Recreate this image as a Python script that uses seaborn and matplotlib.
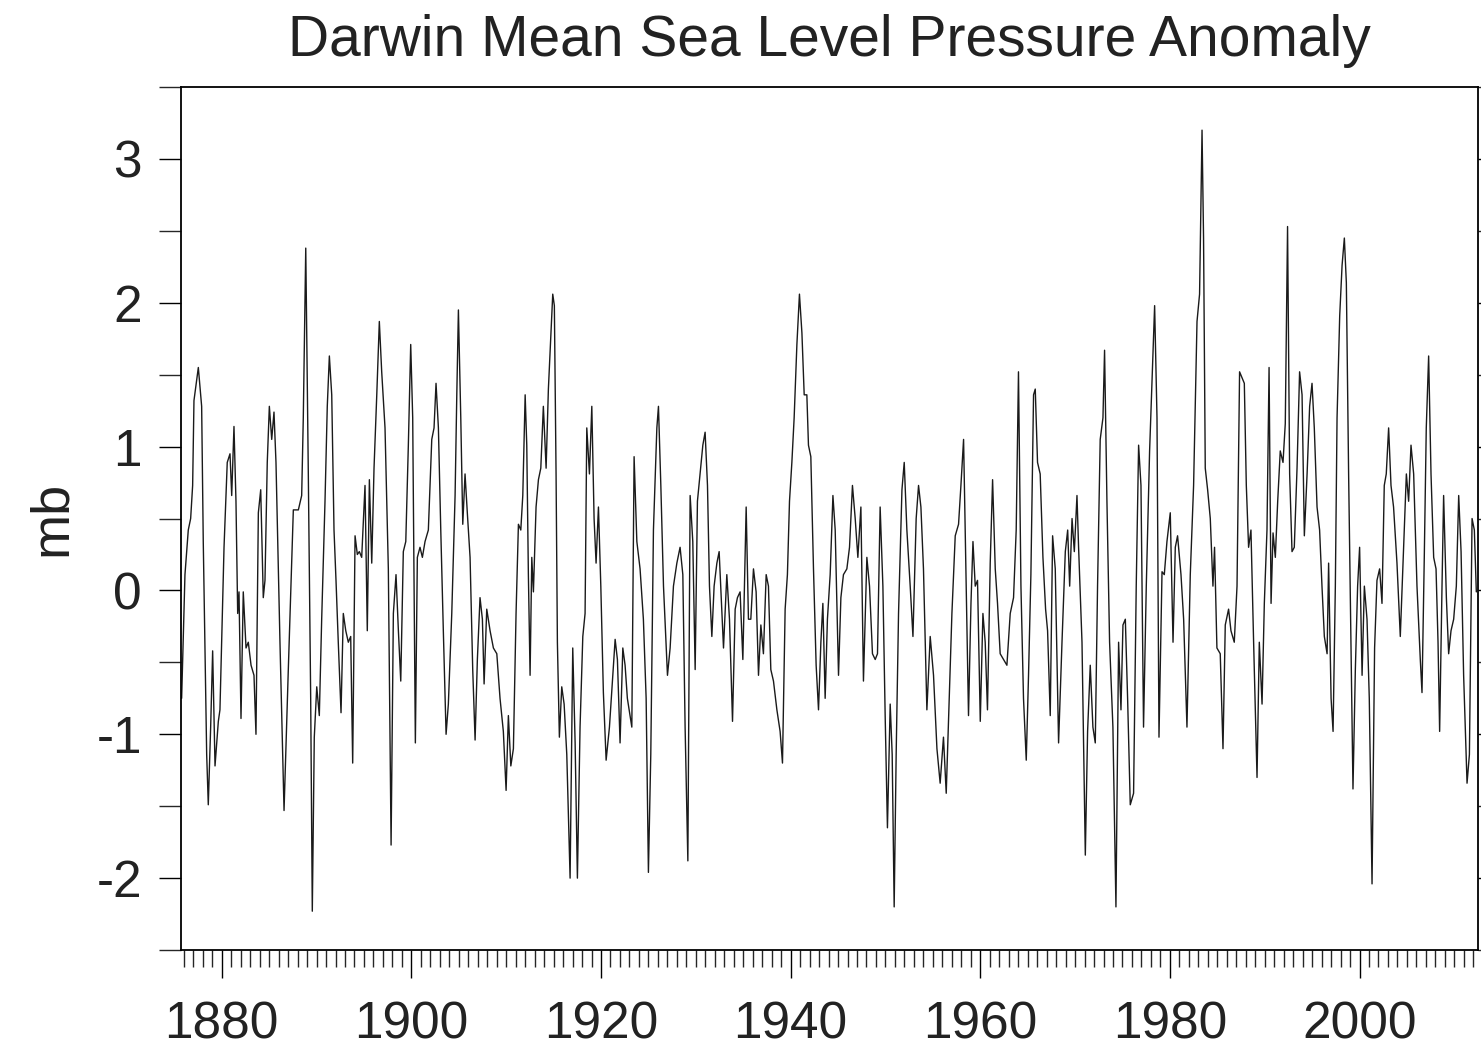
import numpy as np
import pandas as pd
import matplotlib
matplotlib.use('Agg')
import matplotlib.pyplot as plt
import seaborn as sns
from matplotlib.ticker import MultipleLocator

# turning points (decimal year, anomaly in mb)
years = [1875.77, 1876.12, 1876.47, 1876.72, 1876.93, 1877.07, 1877.53, 1877.88, 1878.05, 1878.41,
         1878.58, 1878.83, 1879.04, 1879.29, 1879.64, 1879.81, 1880.24, 1880.58, 1880.87, 1881.05,
         1881.29, 1881.50, 1881.68, 1881.82, 1882.03, 1882.27, 1882.56, 1882.80, 1883.09, 1883.40,
         1883.61, 1883.86, 1884.11, 1884.38, 1884.56, 1884.80, 1885.02, 1885.27, 1885.51, 1885.72,
         1886.14, 1886.57, 1887.02, 1887.55, 1888.08, 1888.43, 1888.60, 1888.86, 1889.13, 1889.38,
         1889.55, 1889.76, 1890.02, 1890.29, 1890.54, 1890.89, 1891.13, 1891.35, 1891.60, 1891.84,
         1892.05, 1892.29, 1892.58, 1892.82, 1893.08, 1893.35, 1893.60, 1893.81, 1894.06, 1894.30,
         1894.51, 1894.76, 1895.11, 1895.35, 1895.57, 1895.82, 1896.06, 1896.35, 1896.62, 1896.87,
         1897.22, 1897.57, 1897.86, 1898.10, 1898.38, 1898.63, 1898.88, 1899.15, 1899.41, 1899.68,
         1899.93, 1900.14, 1900.28, 1900.42, 1900.63, 1900.91, 1901.16, 1901.44, 1901.79, 1902.15,
         1902.39, 1902.60, 1902.85, 1903.10, 1903.37, 1903.66, 1903.90, 1904.26, 1904.61, 1904.79,
         1904.96, 1905.21, 1905.42, 1905.66, 1905.90, 1906.19, 1906.47, 1906.72, 1906.96, 1907.24,
         1907.49, 1907.67, 1907.95, 1908.30, 1908.65, 1909.01, 1909.35, 1909.70, 1909.99, 1910.23,
         1910.49, 1910.76, 1911.04, 1911.29, 1911.54, 1911.75, 1912.00, 1912.17, 1912.34, 1912.52,
         1912.70, 1912.87, 1913.15, 1913.40, 1913.65, 1913.92, 1914.21, 1914.45, 1914.70, 1914.91,
         1915.08, 1915.26, 1915.40, 1915.61, 1915.86, 1916.11, 1916.39, 1916.74, 1917.02, 1917.27,
         1917.51, 1917.79, 1918.08, 1918.32, 1918.50, 1918.78, 1919.03, 1919.27, 1919.48, 1919.73,
         1919.98, 1920.25, 1920.54, 1920.89, 1921.24, 1921.49, 1921.73, 1922.01, 1922.30, 1922.54,
         1922.78, 1923.25, 1923.49, 1923.78, 1924.12, 1924.47, 1924.76, 1925.00, 1925.25, 1925.53,
         1925.89, 1926.06, 1926.31, 1926.59, 1927.01, 1927.29, 1927.64, 1928.00, 1928.34, 1928.63,
         1928.87, 1929.16, 1929.40, 1929.68, 1929.93, 1930.17, 1930.45, 1930.74, 1930.98, 1931.23,
         1931.44, 1931.69, 1931.93, 1932.22, 1932.46, 1932.75, 1932.92, 1933.27, 1933.55, 1933.87,
         1934.15, 1934.39, 1934.67, 1934.96, 1935.31, 1935.55, 1935.80, 1936.08, 1936.36, 1936.61,
         1936.86, 1937.13, 1937.42, 1937.66, 1937.91, 1938.19, 1938.55, 1938.89, 1939.14, 1939.42,
         1939.66, 1939.88, 1940.13, 1940.37, 1940.66, 1940.93, 1941.19, 1941.43, 1941.71, 1941.88,
         1942.13, 1942.41, 1942.69, 1942.94, 1943.19, 1943.40, 1943.64, 1943.88, 1944.17, 1944.46,
         1944.70, 1945.05, 1945.30, 1945.57, 1945.93, 1946.21, 1946.52, 1946.81, 1947.09, 1947.41,
         1947.68, 1948.04, 1948.32, 1948.63, 1948.92, 1949.16, 1949.44, 1949.73, 1949.97, 1950.21,
         1950.50, 1950.71, 1950.92, 1951.13, 1951.38, 1951.74, 1951.98, 1952.26, 1952.61, 1952.90,
         1953.24, 1953.49, 1953.74, 1954.01, 1954.37, 1954.72, 1955.07, 1955.43, 1955.77, 1956.12,
         1956.41, 1956.65, 1957.01, 1957.36, 1957.71, 1957.96, 1958.24, 1958.41, 1958.76, 1959.02,
         1959.23, 1959.47, 1959.71, 1960.00, 1960.28, 1960.52, 1960.76, 1961.05, 1961.30, 1961.58,
         1961.82, 1962.10, 1962.45, 1962.81, 1963.16, 1963.51, 1963.79, 1964.03, 1964.29, 1964.56,
         1964.85, 1965.09, 1965.34, 1965.62, 1965.80, 1966.04, 1966.32, 1966.61, 1966.89, 1967.10,
         1967.38, 1967.63, 1967.91, 1968.26, 1968.62, 1968.97, 1969.22, 1969.43, 1969.68, 1969.92,
         1970.20, 1970.37, 1970.73, 1971.08, 1971.32, 1971.60, 1971.88, 1972.13, 1972.37, 1972.65,
         1972.94, 1973.11, 1973.36, 1973.64, 1973.99, 1974.31, 1974.59, 1974.84, 1975.05, 1975.30,
         1975.54, 1975.82, 1976.17, 1976.45, 1976.70, 1976.95, 1977.22, 1977.51, 1977.86, 1978.11,
         1978.39, 1978.64, 1978.85, 1979.17, 1979.41, 1979.69, 1980.04, 1980.33, 1980.57, 1980.81,
         1981.17, 1981.45, 1981.80, 1982.15, 1982.50, 1982.86, 1983.13, 1983.39, 1983.55, 1983.73,
         1983.98, 1984.26, 1984.54, 1984.71, 1984.96, 1985.31, 1985.60, 1985.84, 1986.19, 1986.44,
         1986.79, 1987.08, 1987.35, 1987.60, 1987.85, 1988.06, 1988.30, 1988.55, 1988.83, 1989.19,
         1989.43, 1989.72, 1989.96, 1990.24, 1990.46, 1990.67, 1990.88, 1991.12, 1991.37, 1991.64,
         1991.93, 1992.17, 1992.41, 1992.63, 1992.88, 1993.12, 1993.41, 1993.68, 1993.94, 1994.18,
         1994.47, 1994.74, 1994.99, 1995.23, 1995.52, 1995.79, 1996.04, 1996.29, 1996.58, 1996.74,
         1997.00, 1997.21, 1997.45, 1997.63, 1997.91, 1998.16, 1998.40, 1998.61, 1998.85, 1999.10,
         1999.31, 1999.56, 1999.80, 2000.01, 2000.27, 2000.51, 2000.79, 2001.03, 2001.32, 2001.59,
         2001.84, 2002.12, 2002.37, 2002.61, 2002.82, 2003.07, 2003.32, 2003.59, 2003.95, 2004.30,
         2004.65, 2004.94, 2005.18, 2005.43, 2005.71, 2006.06, 2006.41, 2006.59, 2006.83, 2007.04,
         2007.29, 2007.54, 2007.82, 2008.07, 2008.28, 2008.45, 2008.70, 2008.87, 2009.16, 2009.40,
         2009.65, 2009.93, 2010.21, 2010.46, 2010.71, 2010.98, 2011.34, 2011.59, 2011.87, 2012.11,
         2012.32]

mslp = [-0.75, 0.11, 0.42, 0.50, 0.73, 1.32, 1.55, 1.28, 0.34, -1.14,
        -1.49, -0.95, -0.42, -1.22, -0.91, -0.83, 0.30, 0.89, 0.95, 0.66,
        1.14, 0.62, -0.16, -0.01, -0.89, -0.01, -0.40, -0.36, -0.52, -0.59,
        -1.00, 0.54, 0.70, -0.05, 0.07, 0.89, 1.28, 1.05, 1.24, 0.89,
        -0.36, -1.53, -0.55, 0.56, 0.56, 0.66, 1.20, 2.38, 0.81, -0.75,
        -2.23, -1.02, -0.67, -0.87, -0.20, 0.62, 1.28, 1.63, 1.36, 0.42,
        0.07, -0.36, -0.85, -0.16, -0.28, -0.36, -0.32, -1.20, 0.38, 0.25,
        0.27, 0.23, 0.73, -0.28, 0.77, 0.19, 0.85, 1.36, 1.87, 1.52,
        1.13, 0.15, -1.77, -0.16, 0.11, -0.28, -0.63, 0.27, 0.34, 1.01,
        1.71, 1.20, 0.03, -1.06, 0.23, 0.30, 0.23, 0.34, 0.42, 1.05,
        1.13, 1.44, 1.13, 0.42, -0.28, -1.00, -0.79, -0.16, 0.66, 1.36,
        1.95, 1.20, 0.46, 0.81, 0.54, 0.23, -0.55, -1.04, -0.48, -0.05,
        -0.20, -0.65, -0.13, -0.28, -0.40, -0.44, -0.75, -0.98, -1.39, -0.87,
        -1.22, -1.10, -0.16, 0.46, 0.42, 0.66, 1.36, 1.01, 0.11, -0.59,
        0.23, -0.01, 0.58, 0.77, 0.85, 1.28, 0.85, 1.40, 1.75, 2.06,
        1.98, 0.81, -0.36, -1.02, -0.67, -0.79, -1.14, -2.00, -0.40, -1.06,
        -2.00, -0.95, -0.32, -0.16, 1.13, 0.81, 1.28, 0.50, 0.19, 0.58,
        0.03, -0.71, -1.18, -0.95, -0.60, -0.34, -0.48, -1.06, -0.40, -0.52,
        -0.75, -0.95, 0.93, 0.34, 0.15, -0.20, -0.75, -1.96, -1.14, 0.42,
        1.13, 1.28, 0.73, 0.03, -0.59, -0.40, 0.03, 0.19, 0.30, 0.11,
        -0.95, -1.88, 0.66, 0.34, -0.55, 0.62, 0.81, 1.01, 1.10, 0.73,
        0.03, -0.32, 0.03, 0.19, 0.27, -0.16, -0.40, 0.11, -0.20, -0.91,
        -0.13, -0.05, -0.01, -0.48, 0.58, -0.20, -0.20, 0.15, -0.01, -0.59,
        -0.24, -0.44, 0.11, 0.03, -0.55, -0.63, -0.83, -0.98, -1.20, -0.13,
        0.11, 0.62, 0.89, 1.20, 1.71, 2.06, 1.79, 1.36, 1.36, 1.01,
        0.93, 0.15, -0.52, -0.83, -0.36, -0.09, -0.75, -0.20, 0.11, 0.66,
        0.42, -0.59, -0.05, 0.11, 0.15, 0.30, 0.73, 0.50, 0.23, 0.58,
        -0.63, 0.23, 0.03, -0.44, -0.48, -0.44, 0.58, 0.03, -0.87, -1.65,
        -0.79, -1.14, -2.20, -1.14, -0.16, 0.70, 0.89, 0.42, 0.03, -0.32,
        0.50, 0.73, 0.58, 0.15, -0.83, -0.32, -0.59, -1.10, -1.34, -1.02,
        -1.41, -0.91, -0.16, 0.38, 0.46, 0.73, 1.05, 0.42, -0.87, -0.09,
        0.34, 0.03, 0.07, -0.91, -0.16, -0.36, -0.83, 0.19, 0.77, 0.15,
        -0.09, -0.44, -0.48, -0.52, -0.16, -0.05, 0.42, 1.52, 0.03, -0.75,
        -1.18, -0.59, 0.11, 1.36, 1.40, 0.89, 0.81, 0.23, -0.13, -0.28,
        -0.87, 0.38, 0.15, -1.06, -0.36, 0.27, 0.42, 0.03, 0.50, 0.27,
        0.66, 0.30, -0.36, -1.84, -0.98, -0.52, -0.95, -1.06, 0.03, 1.05,
        1.20, 1.67, 0.62, -0.36, -0.95, -2.20, -0.36, -0.83, -0.24, -0.20,
        -0.75, -1.49, -1.41, 0.03, 1.01, 0.73, -0.95, 0.03, 0.97, 1.44,
        1.98, 1.20, -1.02, 0.13, 0.11, 0.34, 0.54, -0.36, 0.30, 0.38,
        0.11, -0.20, -0.95, 0.11, 0.73, 1.87, 2.06, 3.20, 2.45, 0.85,
        0.70, 0.50, 0.03, 0.30, -0.40, -0.44, -1.10, -0.24, -0.13, -0.28,
        -0.36, 0.03, 1.52, 1.48, 1.44, 0.73, 0.30, 0.42, -0.36, -1.30,
        -0.36, -0.79, -0.09, 0.42, 1.55, -0.09, 0.40, 0.23, 0.62, 0.97,
        0.89, 1.16, 2.53, 0.81, 0.27, 0.30, 0.85, 1.52, 1.36, 0.38,
        0.81, 1.28, 1.44, 1.13, 0.58, 0.42, 0.03, -0.32, -0.44, 0.19,
        -0.75, -0.98, 0.03, 1.20, 1.91, 2.26, 2.45, 2.14, 0.81, -0.36,
        -1.38, -0.55, 0.03, 0.30, -0.59, 0.03, -0.20, -0.75, -2.04, -0.40,
        0.07, 0.15, -0.09, 0.73, 0.81, 1.13, 0.73, 0.58, 0.19, -0.32,
        0.30, 0.81, 0.62, 1.01, 0.81, 0.03, -0.48, -0.71, 0.23, 1.13,
        1.63, 0.81, 0.23, 0.15, -0.36, -0.98, 0.03, 0.66, -0.05, -0.44,
        -0.28, -0.20, 0.03, 0.66, 0.27, -0.59, -1.34, -1.14, 0.50, 0.42,
        -0.01]

df = pd.DataFrame({'year': years, 'mb': mslp})

sns.set_style('ticks')
plt.rcParams['font.family'] = ['Liberation Sans', 'DejaVu Sans']
plt.rcParams['axes.unicode_minus'] = False

fig = plt.figure(figsize=(14.81, 10.47), dpi=100)
ax = fig.add_axes([0.1222, 0.0926, 0.8758, 0.8243])

sns.lineplot(data=df, x='year', y='mb', estimator=None, sort=False,
             color='#1a1a1a', linewidth=1.0, ax=ax)

ax.set_xlim(1875.7, 2012.5)
ax.set_ylim(-2.5, 3.5)

ax.set_xticks([1880, 1900, 1920, 1940, 1960, 1980, 2000])
ax.xaxis.set_minor_locator(MultipleLocator(1))
ax.set_yticks([-2, -1, 0, 1, 2, 3])
ax.yaxis.set_minor_locator(MultipleLocator(0.5))

ax.tick_params(axis='both', which='major', labelsize=37, direction='out',
               length=16, width=1.0, color='black', labelcolor='#222222')
ax.tick_params(axis='y', which='both', right=True)
ax.tick_params(axis='y', which='minor', length=16, width=1.0)
ax.tick_params(axis='x', which='minor', length=12, width=1.0)
ax.tick_params(axis='x', which='major', length=20, pad=16)
ax.tick_params(axis='y', which='major', pad=12)

for s in ax.spines.values():
    s.set_visible(True)
    s.set_color('black')
    s.set_linewidth(1.3)

ax.set_xlabel('')
ax.set_ylabel('mb', fontsize=39, labelpad=14, color='#222222')
ax.set_title('Darwin Mean Sea Level Pressure Anomaly', fontsize=41, pad=22,
             color='#222222')

fig.savefig('out.png', dpi=100, facecolor='white')
